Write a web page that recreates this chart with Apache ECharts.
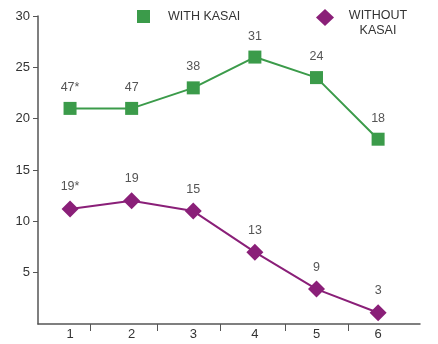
<!DOCTYPE html>
<html>
<head>
<meta charset="utf-8">
<script src="https://cdn.jsdelivr.net/npm/echarts@6/dist/echarts.min.js"></script>
<style>html,body{margin:0;padding:0;background:#fff}#c{width:438px;height:344px}</style>
</head>
<body>
<div id="c"></div>
<script>
const xValues = [1, 2, 3, 4, 5, 6];
const withKasai = [21, 21, 23, 26, 24, 18];
const withoutKasai = [11.2, 12, 11, 7, 3.4, 1.1];
const withLabels = ['47*', '47', '38', '31', '24', '18'];
const withoutLabels = ['19*', '19', '15', '13', '9', '3'];
const yTicks = [0, 5, 10, 15, 20, 25, 30];
const xTickMarks = [1.33, 2.41, 3.44, 4.49, 5.51];

const GREEN = '#3b9b4a';
const PURPLE = '#8a1f78';
const FONT = 'Liberation Sans, Arial, sans-serif';

const chart = echarts.init(document.getElementById('c'), null, {renderer: 'canvas'});
chart.setOption({
  animation: false,
  grid: {left: 38, top: 16, width: 382, height: 308, containLabel: false},
  xAxis: {
    type: 'value', min: 0.48, max: 6.68,
    axisLine: {lineStyle: {color: '#555', width: 1.5}},
    axisTick: {show: true, length: 7, customValues: xTickMarks, lineStyle: {color: '#555', width: 1}},
    axisLabel: {customValues: xValues, color: '#333', fontSize: 13, fontFamily: FONT, margin: 4},
    splitLine: {show: false}
  },
  yAxis: {
    type: 'value', min: yTicks[0], max: yTicks[yTicks.length - 1], interval: 5,
    axisLine: {show: true, lineStyle: {color: '#555', width: 1.5}},
    axisTick: {show: true, length: 5, lineStyle: {color: '#555', width: 1}},
    axisLabel: {color: '#333', fontSize: 13, fontFamily: FONT, margin: 8, showMinLabel: false},
    splitLine: {show: false}
  },
  legend: [
    {
      data: [{name: 'WITH KASAI', icon: 'rect'}],
      left: 137, top: 10, padding: 0,
      itemWidth: 13, itemHeight: 13, itemGap: 10,
      textStyle: {color: '#333', fontSize: 12.5, fontFamily: FONT, padding: [0, 0, 5, 13]},
      selectedMode: false
    },
    {
      data: [{name: 'WITHOUT KASAI', icon: 'diamond'}],
      left: 316, top: 9, padding: 0,
      itemWidth: 18, itemHeight: 17,
      formatter: function () { return '{a|WITHOUT}\n{a|KASAI}'; },
      textStyle: {
        color: '#333', fontSize: 12.5, fontFamily: FONT, padding: [11, 0, 0, 10],
        rich: {a: {width: 58, align: 'center', fontSize: 12.5, fontFamily: FONT, color: '#333', lineHeight: 15}}
      },
      selectedMode: false
    }
  ],
  series: [
    {
      name: 'WITH KASAI', type: 'line',
      data: xValues.map((x, i) => [x, withKasai[i]]),
      symbol: 'rect', symbolSize: 13,
      itemStyle: {color: GREEN},
      lineStyle: {color: GREEN, width: 2},
      label: {
        show: true, position: 'top', distance: 8,
        color: '#555', fontSize: 12.5, fontFamily: FONT,
        formatter: p => withLabels[p.dataIndex]
      }
    },
    {
      name: 'WITHOUT KASAI', type: 'line',
      data: xValues.map((x, i) => [x, withoutKasai[i]]),
      symbol: 'diamond', symbolSize: 17,
      itemStyle: {color: PURPLE},
      lineStyle: {color: PURPLE, width: 2},
      label: {
        show: true, position: 'top', distance: 7,
        color: '#555', fontSize: 12.5, fontFamily: FONT,
        formatter: p => withoutLabels[p.dataIndex]
      }
    }
  ]
});
</script>
</body>
</html>
